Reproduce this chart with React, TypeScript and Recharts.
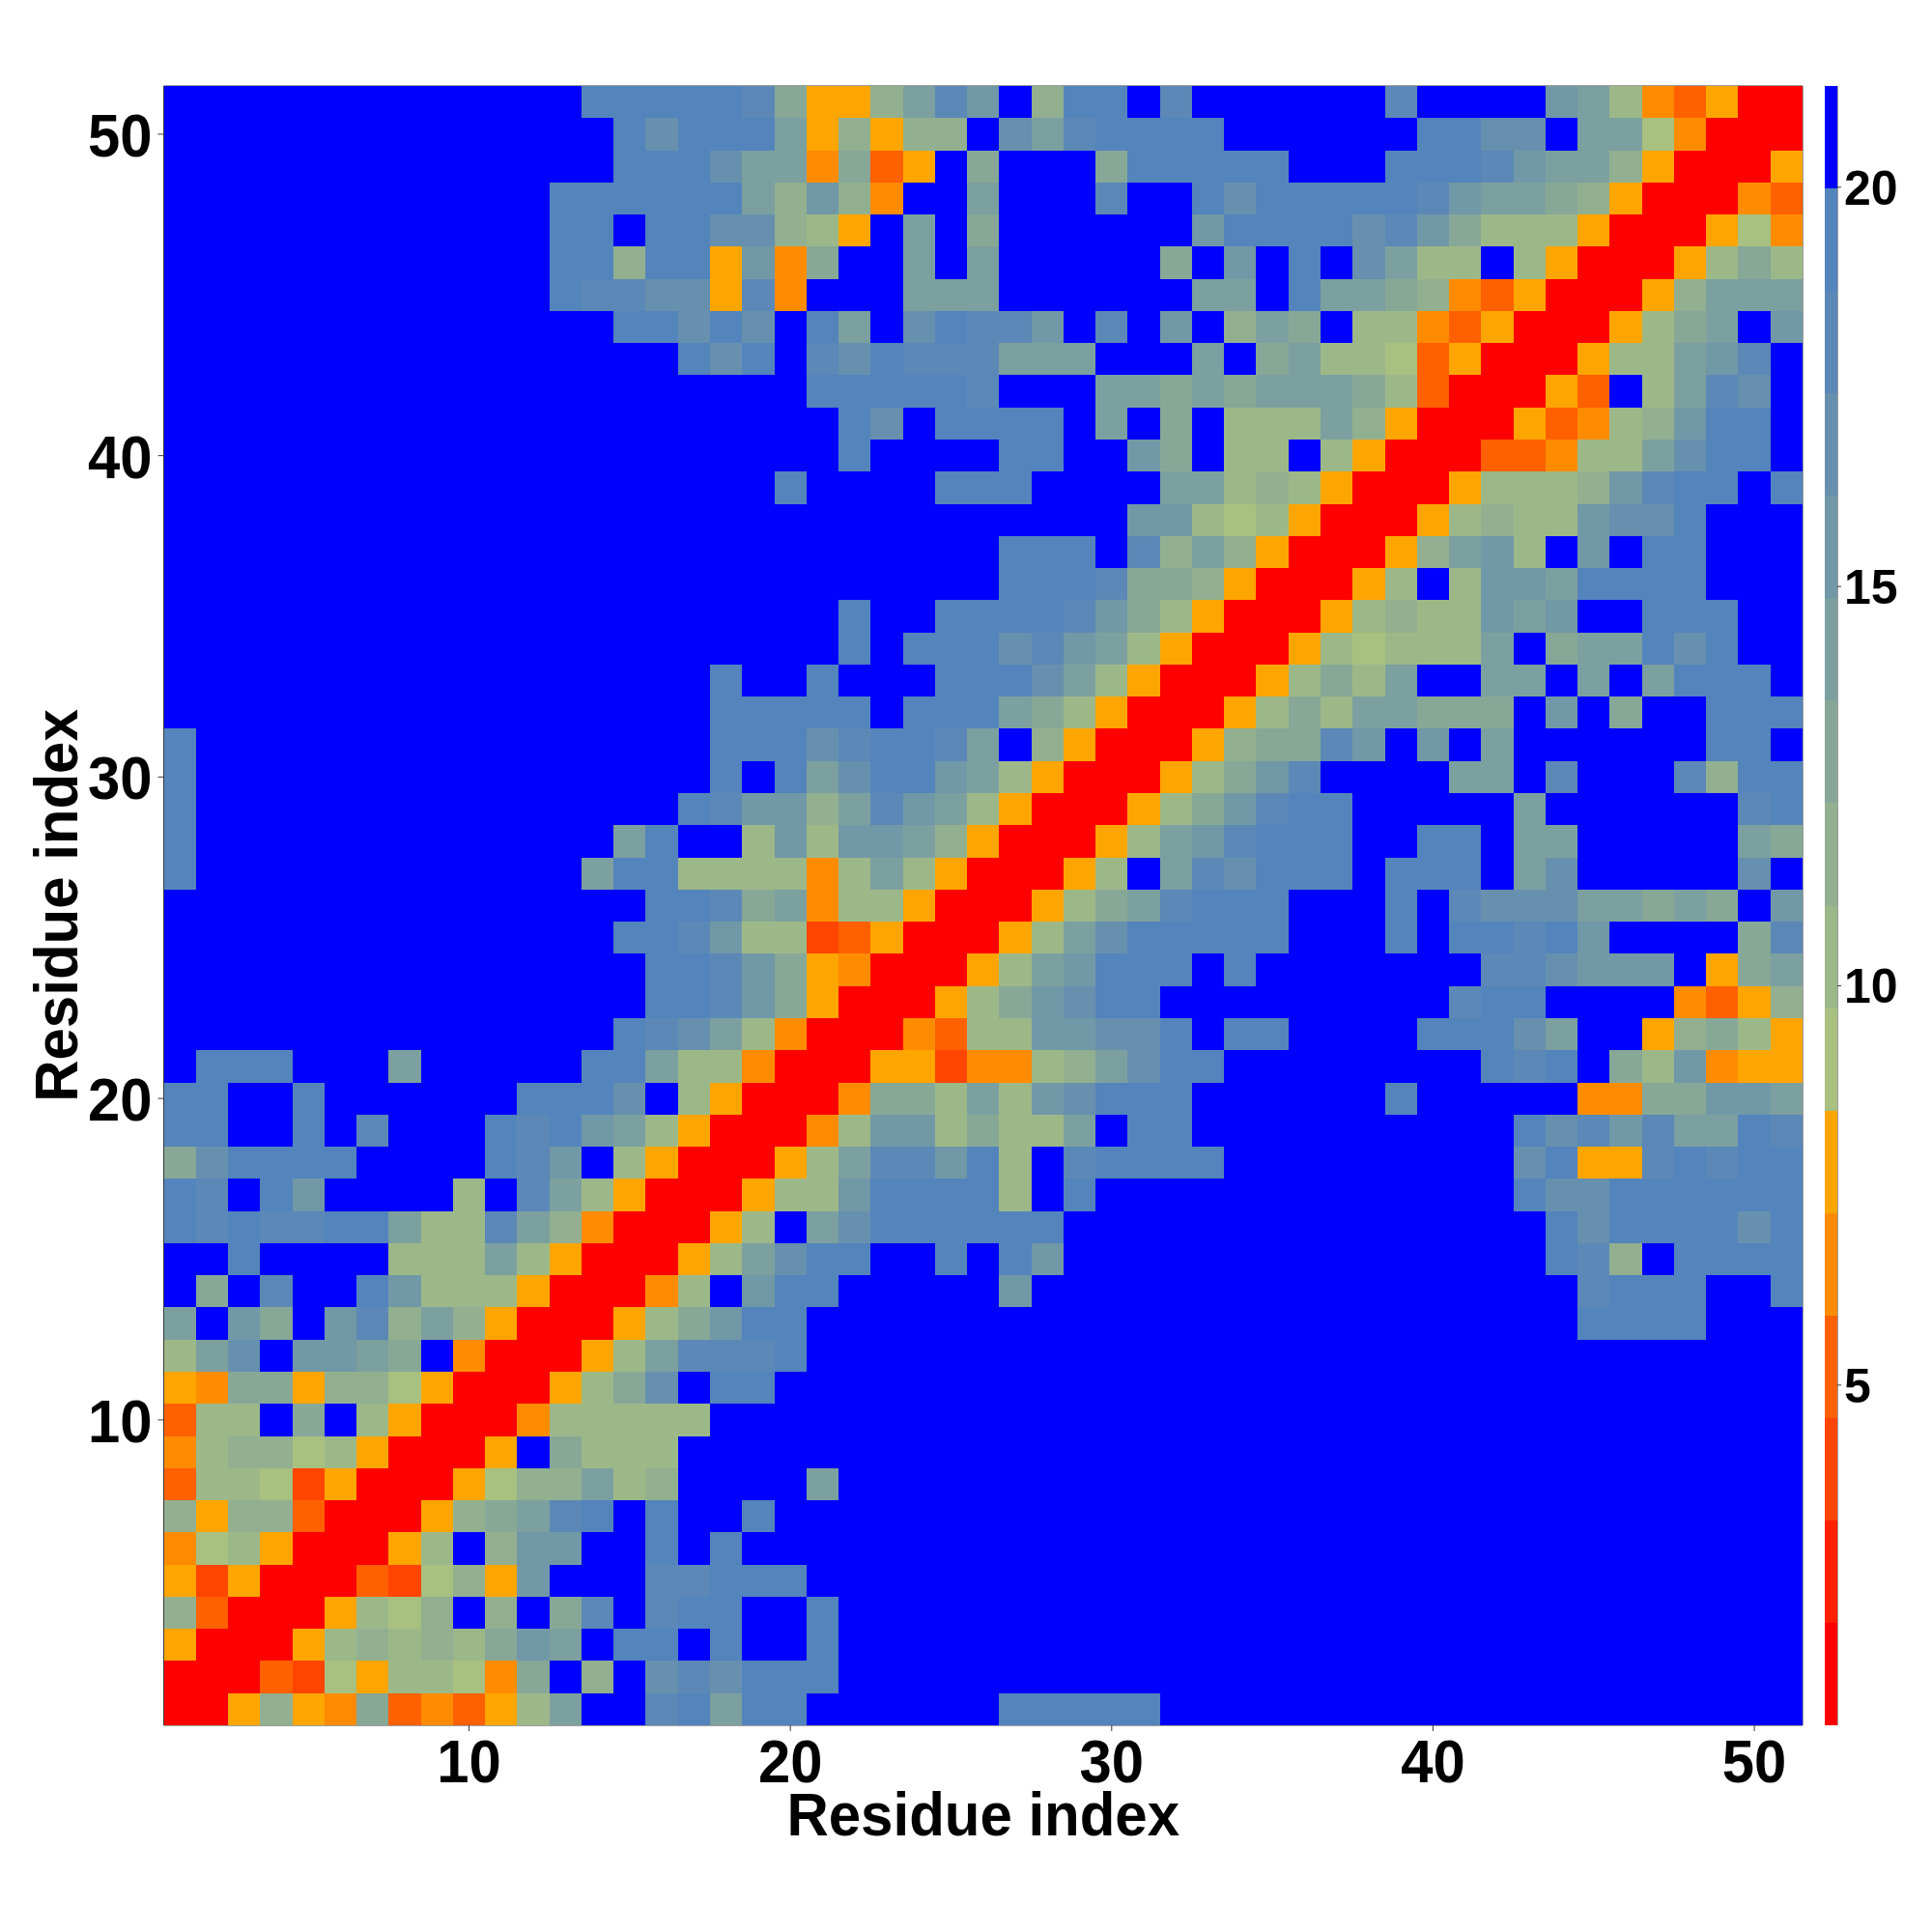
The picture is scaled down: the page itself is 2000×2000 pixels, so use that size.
import React from 'react';
import { ScatterChart, Scatter, XAxis, YAxis, ZAxis } from 'recharts';

// Distance-map levels, one character per residue (hex index into the colour bar bands).
// First string is residue 51 (top row), last string is residue 1 (bottom row).
const levelRows: string[] = [
  'ffffffffff fffeeeeed9 558adbf8ee fdffffffdf fffba74350 0',
  'ffffffffff ffffeceeea 58588fcade eeeffffffe eccfaa6400 0',
  'ffffffffff ffffeeecaa 4935f9fff9 eeeeefffee edbaa85000 5',
  'ffffffffff ffeeeeeea8 b84ffafffd ffeceeeeed baa9850004 3',
  'ffffffffff ffeefeecc8 75faf9ffff ffbeeeecdb 9777500056 4',
  'ffffffffff ffee8ee5b4 9ffafaffff f9fbfefca7 7f75000579 7',
  'ffffffffff ffeddcc5d4 fffaaaffff ffaafeaa98 43500058aa a',
  'ffffffffff ffffeececf eafceddbfd fbf8a9f774 35000579af b',
  'ffffffffff ffffffecef dcedddaaaf ffaf9a7763 5000577abd f',
  'ffffffffff ffffffffff eeeeedfffa a9a9aaa973 00053f7adc f',
  'ffffffffff ffffffffff fecfeeeefa f9f777a850 0053478bee f',
  'ffffffffff ffffffffff feffffeeff b9f77f7500 033477acee f',
  'ffffffffff fffffffffe ffffeeefff faa7875000 57778bdeef e',
  'ffffffffff ffffffffff ffffffffff bb76750005 7877bcceff f',
  'ffffffffff ffffffffff ffffffeeef d8a8500058 ab7fbfeeff f',
  'ffffffffff ffffffffff ffffffeeed 998500057f 7bbaeeeeff f',
  'ffffffffff ffffffffff feffeeeedb 9750005787 7babffeeef f',
  'ffffffffff ffffffffff fefeeecdba 7500057677 7af9aaecef f',
  'ffffffffff fffffffeff efffeeeca7 50005797af faafafaeee f',
  'ffffffffff fffffffeee eefeeea975 0005797aa9 99fbf9ffee e',
  'efffffffff fffffffeee cdeedaf850 005899dbfb faffffffee f',
  'efffffffff fffffffefe aceeba7500 0579bdffff aafdfffd8e e',
  'efffffffff ffffffedbb 8adba75000 579bdeefff ffaffffffd e',
  'efffffffff ffffaeff7b 7bba850005 7abdeeeffe efaafffffa 9',
  'efffffffff fffaee7777 47a7500057 fadceeefee efacfffffc f',
  'ffffffffff fffffeed9a 4775000579 adeeefffef dcccaa9a9f b',
  'ffffffffff ffffeedb77 23500057ac eeeeefffef eedebffff9 d',
  'ffffffffff fffffeedb9 5400057abe eefeffffff fddcbbbf59 a',
  'ffffffffff fffffeedb9 5000579bce efffffffff deeffff435 8',
  'ffffffffff ffffedca74 0004377bbc cefeeffffe eecaff5897 5',
  'feeefffaff fffeea7740 005524478a ceefffffff fedef97b45 5',
  'eeffefffff feeecf7500 04997a7bce eeffffffef ffff4499bb a',
  'eeffefdfff edeba75000 47bb7977af eeffffffff ffecdbdaae d',
  '9ceeeeffff edbf750005 7addbe7fde eeefffffff ffce55dede e',
  'edfebffff7 fda7500057 7beeee7fef ffffffffff ffecceeeee e',
  'ededdeea77 da8400057f aceeeeeeff ffffffffff fffeceeeec e',
  'ffeffff777 a7500057ac eeffefebff ffffffffff fffed8feee e',
  'f9fdffeb77 7500047fbe efffffbfff ffffffffff ffffdeeeff e',
  'afb9fbd8a8 5000579bee ffffffffff ffffffffff ffffeeeeff f',
  '7acfbba9f4 00057addde ffffffffff ffffffffff ffffffffff f',
  '5499588650 00579cfeef ffffffffff ffffffffff ffffffffff f',
  '377f9f7500 0477777fff ffffffffff ffffffffff ffffffffff f',
  '4788675000 5f9777ffff ffffffffff ffffffffff ffffffffff f',
  '3776250005 688a78ffff afffffffff ffffffffff ffffffffff f',
  '8588300058 9adefeffef ffffffffff ffffffffff ffffffffff f',
  '467500057f 8bbffefeff ffffffffff ffffffffff ffffffffff f',
  '5250003268 5bfffddeee ffffffffff ffffffffff ffffffffff f',
  '830005768f 8f9dfdeeff efffffffff ffffffffff ffffffffff f',
  '5000578787 9bafeefeff efffffffff ffffffffff ffffffffff f',
  '0003265776 49f8fcdcee efffffffff ffffffffff ffffffffff f',
  '0058549343 57affdeaee ffffffeeee efffffffff ffffffffff f',
];

// Colour bar bands, lowest distance first.
const bandColors: string[] = [
  '#ff0000', '#ff2000', '#ff4500', '#ff6000', '#ff8c00', '#ffa500',
  '#a8c080', '#9db888', '#92b08f', '#87a897', '#7ca09f', '#7198a6',
  '#6690ae', '#5b88b6', '#5484bc', '#0000ff',
];
const barMin = 0.74;
const bandStep = 1.283;

const axisTicks: number[] = [10, 20, 30, 40, 50];
const barTicks: number[] = [5, 10, 15, 20];
const axisDomain: [number, number] = [0.5, 51.5];
const axisTitle = 'Residue index';

type Cell = { x: number; y: number; level: number };
const cells: Cell[] = levelRows.flatMap((row, r) =>
  row
    .replace(/\s/g, '')
    .split('')
    .map((c, i) => ({ x: i + 1, y: 51 - r, level: parseInt(c, 16) })),
);
const bands = bandColors.map((color, i) => ({
  x: 0.5,
  y: barMin + (i + 0.5) * bandStep,
  level: i,
}));

const FONT = '"Liberation Sans", Arial, sans-serif';
const CELL_SIZE = 1696.5 / 51;
const BAND_HEIGHT = 1697 / 16;
const BAR_WIDTH = 13;
const FRAME = '#3a3a3a';
const TICK_FONT = 63;
const TITLE_FONT = 63;
const SQUEEZE_TICK = 0.95;
const SQUEEZE_TITLE = 0.952;

function CellShape(props: any) {
  const { cx, cy, payload } = props;
  const x0 = Math.round(cx - CELL_SIZE / 2);
  const x1 = Math.round(cx + CELL_SIZE / 2);
  const y0 = Math.round(cy - CELL_SIZE / 2);
  const y1 = Math.round(cy + CELL_SIZE / 2);
  return <rect x={x0} y={y0} width={x1 - x0} height={y1 - y0} fill={bandColors[payload.level]} stroke="none" />;
}

function BandShape(props: any) {
  const { cx, cy, payload } = props;
  const y0 = Math.round(cy - BAND_HEIGHT / 2);
  const y1 = Math.round(cy + BAND_HEIGHT / 2);
  return <rect x={cx - BAR_WIDTH / 2} y={y0} width={BAR_WIDTH} height={y1 - y0} fill={bandColors[payload.level]} stroke="none" />;
}

function BottomTick(props: any) {
  const { x, y, payload } = props;
  return (
    <text
      transform={`translate(${x},${y + 47}) scale(${SQUEEZE_TICK},1)`}
      textAnchor="middle"
      fontFamily={FONT}
      fontWeight={700}
      fontSize={TICK_FONT}
      fill="#000"
    >
      {payload.value}
    </text>
  );
}

function LeftTick(props: any) {
  const { x, y, payload } = props;
  return (
    <text
      transform={`translate(${x},${y + 23}) scale(${SQUEEZE_TICK},1)`}
      textAnchor="end"
      fontFamily={FONT}
      fontWeight={700}
      fontSize={TICK_FONT}
      fill="#000"
    >
      {payload.value}
    </text>
  );
}

function BottomTitle(props: any) {
  const { viewBox } = props;
  return (
    <text
      transform={`translate(${viewBox.x + viewBox.width / 2},${viewBox.y + 114}) scale(${SQUEEZE_TITLE},1)`}
      textAnchor="middle"
      fontFamily={FONT}
      fontWeight={700}
      fontSize={TITLE_FONT}
      fill="#000"
    >
      {axisTitle}
    </text>
  );
}

function LeftTitle(props: any) {
  const { viewBox } = props;
  return (
    <text
      transform={`translate(${viewBox.x + 10},${viewBox.y + viewBox.height / 2}) rotate(-90) scale(${SQUEEZE_TITLE},1)`}
      textAnchor="middle"
      fontFamily={FONT}
      fontWeight={700}
      fontSize={TITLE_FONT}
      fill="#000"
    >
      {axisTitle}
    </text>
  );
}

const barTickStyle = { fontFamily: FONT, fontWeight: 700, fontSize: 50, fill: '#000' };

export default function App() {
  return (
    <div style={{ position: 'absolute', left: 0, top: 0, width: 2000, height: 2000, background: '#fff' }}>
      <div style={{ position: 'absolute', left: 0, top: 0 }}>
        <ScatterChart
          width={2000}
          height={2000}
          margin={{ left: 69.5, right: 128, top: 83, bottom: 114 }}
        >
          <XAxis
            xAxisId="b"
            type="number"
            dataKey="x"
            domain={axisDomain}
            ticks={axisTicks}
            interval={0}
            height={100}
            tickSize={6}
            tickMargin={6}
            stroke={FRAME}
            tick={BottomTick}
            label={{ content: BottomTitle }}
          />
          <XAxis
            xAxisId="t"
            orientation="top"
            type="number"
            domain={axisDomain}
            ticks={axisTicks}
            interval={0}
            height={6}
            tickSize={6}
            stroke={FRAME}
            tick={false}
          />
          <YAxis
            yAxisId="l"
            type="number"
            dataKey="y"
            domain={axisDomain}
            ticks={axisTicks}
            interval={0}
            width={100}
            tickSize={6}
            tickMargin={6}
            stroke={FRAME}
            tick={LeftTick}
            label={{ content: LeftTitle }}
          />
          <YAxis
            yAxisId="r"
            orientation="right"
            type="number"
            domain={axisDomain}
            ticks={axisTicks}
            interval={0}
            width={6}
            tickSize={6}
            stroke={FRAME}
            tick={false}
          />
          <ZAxis range={[100, 100]} />
          <Scatter
            xAxisId="b"
            yAxisId="l"
            data={cells}
            isAnimationActive={false}
            shape={CellShape}
          />
        </ScatterChart>
      </div>
      <div style={{ position: 'absolute', left: 0, top: 0 }}>
        <ScatterChart
          width={2000}
          height={2000}
          margin={{ left: 1889, right: 0, top: 89, bottom: 214 }}
        >
          <XAxis type="number" dataKey="x" domain={[0, 1]} hide />
          <YAxis
            yAxisId="r"
            orientation="right"
            type="number"
            dataKey="y"
            domain={[barMin, barMin + bands.length * bandStep]}
            ticks={barTicks}
            interval={0}
            width={98}
            tickSize={4}
            tickMargin={3}
            stroke={FRAME}
            tick={barTickStyle}
          />
          <YAxis
            yAxisId="l"
            orientation="left"
            type="number"
            domain={[barMin, barMin + bands.length * bandStep]}
            ticks={barTicks}
            width={0}
            tick={false}
            tickLine={false}
            stroke={FRAME}
          />
          <ZAxis range={[100, 100]} />
          <Scatter
            yAxisId="r"
            data={bands}
            isAnimationActive={false}
            shape={BandShape}
          />
        </ScatterChart>
      </div>
    </div>
  );
}
